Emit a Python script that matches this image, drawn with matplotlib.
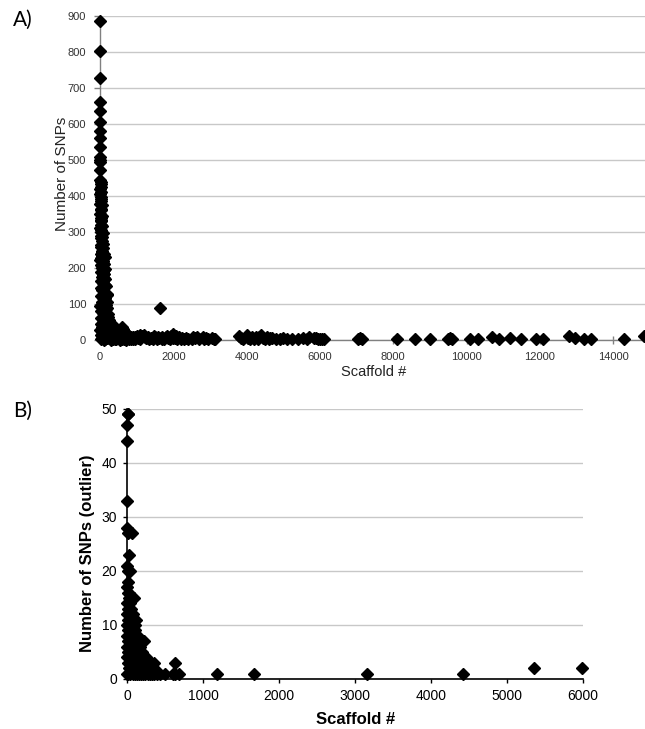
import matplotlib
matplotlib.use("Agg")
import matplotlib.pyplot as plt
from matplotlib.ticker import MultipleLocator

# ---------------- Panel A data (scaffold #, number of SNPs) ----------------
scaffold_a = [8, 8, 8, 5, 10, 8, 5, 10, 5, 8, 12, 8, 5, 10, 15, 8, 20, 5, 12, 20,
              8, 15, 25, 10, 30, 40, 20, 55, 15, 35, 45, 25, 60, 140, 10, 80, 30, 50, 100, 20,
              70, 120, 40, 90, 150, 15, 60, 110, 180, 30, 80, 140, 200, 50, 10, 100, 160, 30, 70, 130,
              220, 20, 90, 180, 270, 40, 120, 300, 60, 200, 350, 10, 100, 400, 250, 150, 40, 300, 450, 80,
              500, 200, 350, 600, 20, 120, 550,
              600, 620, 580, 650, 700, 680, 750, 800, 850, 900, 950,
              250, 300, 400, 450, 500, 550, 650, 700, 750, 850, 900, 950,
              1000, 1050, 1100, 1150, 1200, 1250, 1300, 1350, 1400, 1450, 1500, 1550, 1600, 1650, 1700,
              1750, 1800, 1850, 1900, 1950, 2000, 2050, 2100, 2150, 2200, 2250, 2300, 2400, 2550, 2600,
              2700, 2800, 2850, 2950, 3050, 3150,
              3800, 3850, 3900, 4000, 4050, 4100, 4200, 4250, 4300, 4400, 4450, 4500, 4550, 4600, 4700,
              4800, 4900, 5000, 5100, 5400, 5550, 5700, 5850, 5950, 6000, 6050, 6100, 7100, 7150, 8100,
              8600, 9000, 9500, 9600, 10100, 10300, 10700, 10900, 11200, 11500, 11900, 12100, 12800, 12950,
              13200, 13400, 14300, 14850,
              25, 35, 15, 30, 20, 45, 30, 55, 40, 60, 20, 35, 70, 50,
              75, 90, 60, 110, 40, 95, 120, 65, 130, 85, 110, 50, 150, 95,
              170, 120, 70, 190, 150, 100, 60, 170, 130, 200, 80, 150, 230, 110, 60, 190, 240, 140,
              320, 220, 100, 380, 160, 270, 420, 60, 330, 200, 480, 110, 380, 250, 150, 420, 300, 60,
              460, 520, 560, 640, 610, 720, 780, 980, 1080, 1220, 1320, 1480, 1580, 1680, 1830, 1980,
              2080, 2350, 2500, 2650, 2900, 3100, 4150, 4350, 4650, 5250, 5650, 5900, 7050, 9550]
snps_a = [885, 803, 728, 662, 636, 605, 580, 560, 535, 508, 500, 495, 472, 445, 432, 420, 412, 405, 378, 365,
          350, 340, 320, 310, 300, 290, 282, 275, 265, 258, 248, 238, 232, 230, 222, 215, 208, 200, 195, 188,
          180, 172, 165, 158, 152, 145, 140, 133, 128, 122, 116, 110, 105, 100, 95, 90, 85, 80, 75, 70,
          65, 60, 55, 50, 48, 45, 42, 38, 35, 32, 30, 28, 25, 22, 20, 18, 15, 12, 10, 8,
          6, 5, 3, 2, 2, 1, 1,
          35, 28, 22, 15, 20, 8, 5, 10, 4, 8, 3,
          8, 4, 7, 2, 12, 9, 3, 1, 12, 9, 2, 7,
          12, 6, 15, 10, 14, 5, 9, 3, 6, 4, 8, 3, 5, 88, 7,
          4, 9, 5, 3, 10, 16, 6, 4, 8, 3, 5, 2, 4, 8, 5,
          3, 9, 4, 3, 5, 4,
          12, 5, 3, 13, 6, 2, 4, 8, 3, 14, 6, 4, 8, 3, 5,
          4, 3, 6, 2, 3, 5, 8, 5, 3, 2, 4, 2, 6, 2, 3,
          2, 2, 3, 2, 2, 3, 8, 4, 6, 3, 2, 3, 10, 5,
          3, 2, 4, 10,
          440, 425, 398, 392, 385, 375, 360, 345, 332, 318, 330, 305, 296, 285,
          268, 255, 245, 240, 228, 220, 210, 205, 198, 190, 183, 176, 170, 163,
          150, 147, 138, 125, 118, 112, 105, 98, 92, 88, 82, 78, 72, 68, 62, 58, 55, 52,
          44, 40, 37, 34, 30, 27, 25, 23, 19, 15, 14, 12, 9, 6, 4, 4, 1, 5,
          18, 20, 12, 30, 10, 12, 3, 9, 4, 8, 6, 12, 9, 3, 12, 6,
          11, 6, 3, 7, 6, 2, 9, 7, 6, 4, 3, 6, 3, 6]

# ---------------- Panel B data (scaffold #, number of outlier SNPs) ----------------
scaffold_b = [10, 15, 5, 5, 5, 5, 10, 70, 20, 5, 15, 40, 5, 10, 30, 90, 5, 20, 50, 80,
              5, 10, 30, 60, 120, 5, 20, 45, 100, 10, 70, 5, 30, 90, 140, 10, 50, 120, 230, 5,
              30, 80, 160, 15, 60, 110, 200, 5, 40, 90, 150, 250, 10, 50, 120, 180, 300, 350, 630, 20,
              70, 140, 220, 280, 5, 40, 100, 160, 240, 330, 400, 500, 630, 680, 1190, 1670, 3160, 4420, 5360, 5990,
              25, 60, 35, 100, 130, 170, 210, 260, 190, 300, 360, 20, 75, 45, 110, 85, 130,
              10, 25, 40, 15, 35, 55, 70, 85, 20, 45, 105, 60, 80, 130, 150, 110, 170, 190, 140, 70,
              125, 175, 210, 230, 270, 320, 160, 90, 200, 240, 310, 350, 60, 120, 180, 210, 270, 440,
              600, 15, 30, 55, 95]
snps_b = [49, 49, 47, 44, 33, 28, 27, 27, 23, 21, 20, 20, 17, 16, 15, 15, 14, 13, 13, 12,
          12, 11, 11, 11, 11, 10, 10, 10, 10, 9, 9, 8, 8, 8, 8, 7, 7, 7, 7, 6,
          6, 6, 6, 5, 5, 5, 5, 4, 4, 4, 4, 4, 3, 3, 3, 3, 3, 3, 3, 2,
          2, 2, 2, 2, 1, 1, 1, 1, 1, 1, 1, 1, 1, 1, 1, 1, 1, 1, 2, 2,
          9, 8, 7, 6, 5, 4, 3, 2, 2, 1, 1, 5, 4, 2, 2, 1, 1,
          18, 16, 14, 13, 12, 12, 10, 11, 9, 9, 9, 7, 7, 8, 7, 7, 6, 5, 5, 5,
          4, 4, 4, 3, 3, 3, 3, 3, 2, 2, 2, 2, 2, 2, 1, 1, 1, 1,
          1, 1, 3, 6, 6]

W, H = 645, 729
fig = plt.figure(figsize=(W / 100, H / 100), dpi=100)
fig.patch.set_facecolor("white")

def fx(px):
    return px / W

def fy(py):
    return 1 - py / H

sans = "Liberation Sans"
narrow = ["Liberation Sans Narrow", "Liberation Sans"]

# ---------------- Panel A ----------------
axA = fig.add_axes([fx(100), fy(340), fx(645) - fx(100), fy(16) - fy(340)])
axA.set_xlim(0, 14870)
axA.set_ylim(0, 900)
axA.yaxis.set_major_locator(MultipleLocator(100))
axA.xaxis.set_major_locator(MultipleLocator(2000))
axA.grid(axis="y", color="#c8c8c8", linewidth=1.0)
axA.set_axisbelow(True)
for s in ("top", "right"):
    axA.spines[s].set_visible(False)
for s in ("left", "bottom"):
    axA.spines[s].set_color("#808080")
    axA.spines[s].set_linewidth(1.0)
axA.plot(scaffold_a, snps_a, linestyle="none", marker="D", markersize=6,
         color="black", clip_on=False, zorder=3)
axA.tick_params(axis="both", labelsize=8, colors="#808080", labelcolor="#333333",
                length=4, width=1, direction="out", pad=6)
axA.tick_params(axis="x", direction="inout", length=6, pad=6)
for lab in axA.get_xticklabels() + axA.get_yticklabels():
    lab.set_fontfamily(sans)
fig.text(fx(62), fy(174), "Number of SNPs", rotation=90, fontsize=11, family=sans,
         color="#222222", ha="center", va="center")
fig.text(fx(374), fy(372), "Scaffold #", fontsize=10.5, family=sans,
         color="#222222", ha="center", va="center")

# ---------------- Panel B ----------------
axB = fig.add_axes([fx(127), fy(679), fx(583) - fx(127), fy(409) - fy(679)])
axB.set_xlim(0, 6000)
axB.set_ylim(0, 50)
axB.yaxis.set_major_locator(MultipleLocator(10))
axB.xaxis.set_major_locator(MultipleLocator(1000))
axB.grid(axis="y", color="#c8c8c8", linewidth=1.0)
axB.set_axisbelow(True)
for s in ("top", "right"):
    axB.spines[s].set_visible(False)
for s in ("left", "bottom"):
    axB.spines[s].set_color("black")
    axB.spines[s].set_linewidth(1.2)
axB.plot(scaffold_b, snps_b, linestyle="none", marker="D", markersize=6.5,
         color="black", clip_on=False, zorder=3)
axB.tick_params(axis="both", labelsize=10, colors="black", length=3, width=1,
                direction="out", pad=4)
for lab in axB.get_xticklabels() + axB.get_yticklabels():
    lab.set_fontfamily(narrow)
fig.text(fx(87), fy(553), "Number of SNPs (outlier)", rotation=90, fontsize=12,
         fontweight="bold", family=narrow, ha="center", va="center")
fig.text(fx(356), fy(720), "Scaffold #", fontsize=12, fontweight="bold", family=narrow,
         ha="center", va="center")

# Panel letters
fig.text(fx(13), fy(20), "A)", fontsize=15, family="Lato", va="center", ha="left")
fig.text(fx(13), fy(411), "B)", fontsize=15, family="Lato", va="center", ha="left")

fig.savefig("out.png", dpi=100, facecolor="white")
